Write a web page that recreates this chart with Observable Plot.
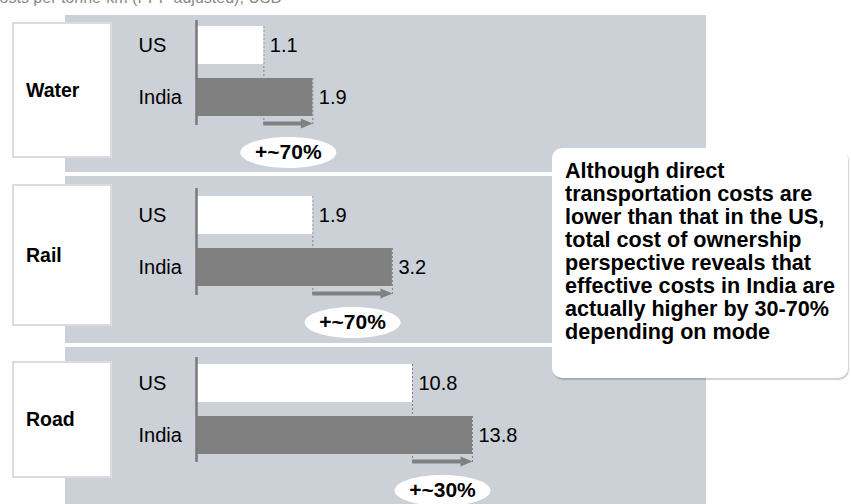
<!DOCTYPE html>
<html>
<head>
<meta charset="utf-8">
<script src="https://cdn.jsdelivr.net/npm/d3@7"></script>
<script src="https://cdn.jsdelivr.net/npm/@observablehq/plot@0.6"></script>
<style>
  body { margin: 0; background: #fff; }
  #root { position: relative; width: 851px; height: 504px; overflow: hidden; background: #fff;
          font-family: "Liberation Sans", Arial, Helvetica, sans-serif; }
  .abs { position: absolute; }
  #bg { left: 65px; top: 15px; width: 641px; height: 489px; background: #ccd0d7; }
  .sep { left: 65px; width: 641px; height: 4px; background: #fff; }
  .modebox { left: 12px; width: 100px; background: #fff; border: 2px solid #dadcdf;
             display: flex; align-items: center; padding-left: 12px; box-sizing: border-box;
             font-weight: bold; font-size: 19.5px; color: #000; }
  #caption { left: -12px; top: -10.5px; font-size: 16px; line-height: 16px; color: #8a8a8a; white-space: nowrap; }
  #callout { left: 552px; top: 148px; width: 296px; height: 230px; background: #fff; border-radius: 10px;
             box-shadow: 1px 2px 1px rgba(0,0,0,0.18); box-sizing: border-box; padding: 11px 0 0 13px;
             font-weight: bold; font-size: 21.6px; line-height: 23px; color: #000; white-space: nowrap; }
  svg.panel { position: absolute; left: 0; top: 0; }
</style>
</head>
<body>
<div id="root"></div>
<script>
// ---- data ----
const modes = ["Water", "Rail", "Road"];
const countries = ["US", "India"];
const usValues = [1.1, 1.9, 10.8];
const indiaValues = [1.9, 3.2, 13.8];
const increaseLabels = ["+~70%", "+~70%", "+~30%"];
const xDomainMax = [9.8, 9.8, 30];
const captionText = "Costs per tonne-km (PPP adjusted), USD";
const calloutLines = [
  "Although direct",
  "transportation costs are",
  "lower than that in the US,",
  "total cost of ownership",
  "perspective reveals that",
  "effective costs in India are",
  "actually higher by 30-70%",
  "depending on mode"
];

// ---- layout (page pixels) ----
const bandTop = [26, 196, 364];
const axisSpan = [[20, 125], [188, 295], [357, 462]];
const modeBoxes = [[22, 136], [184, 142], [361, 117]];
const separators = [172, 343];

const root = document.getElementById("root");
function addDiv(id, cls, style, html) {
  const d = document.createElement("div");
  d.className = "abs " + (cls || "");
  if (id) d.id = id;
  Object.assign(d.style, style || {});
  if (html != null) d.innerHTML = html;
  root.appendChild(d);
  return d;
}
addDiv("bg");
separators.forEach(y => addDiv(null, "sep", {top: y + "px"}));
addDiv("caption", "", {}, captionText);
modes.forEach((m, i) => addDiv(null, "modebox", {top: modeBoxes[i][0] + "px", height: modeBoxes[i][1] + "px"}, m));

const arrowGray = "#808080";
const ellipseSymbol = {
  draw(ctx) {
    const rx = 48, ry = 15.5, k = 0.5523;
    ctx.moveTo(rx, 0);
    ctx.bezierCurveTo(rx, ry * k, rx * k, ry, 0, ry);
    ctx.bezierCurveTo(-rx * k, ry, -rx, ry * k, -rx, 0);
    ctx.bezierCurveTo(-rx, -ry * k, -rx * k, -ry, 0, -ry);
    ctx.bezierCurveTo(rx * k, -ry, rx, -ry * k, rx, 0);
    ctx.closePath();
  }
};
const headSymbol = {
  draw(ctx) {
    ctx.moveTo(0, 0);
    ctx.lineTo(-12, -5);
    ctx.lineTo(-12, 5);
    ctx.closePath();
  }
};

modes.forEach((m, i) => {
  const rows = countries.map((c, j) => ({country: c, value: j === 0 ? usValues[i] : indiaValues[i]}));
  const diff = [{us: usValues[i], india: indiaValues[i], label: increaseLabels[i]}];
  const mid = d => (d.us + d.india) / 2;
  const india = () => "India";
  const us = () => "US";
  const plot = Plot.plot({
    width: 851,
    height: 504,
    marginLeft: 138,
    marginRight: 0,
    marginTop: axisSpan[i][0],
    marginBottom: 504 - axisSpan[i][1],
    style: {background: "transparent", fontFamily: "'Liberation Sans', Arial, sans-serif", overflow: "visible"},
    x: {domain: [0, xDomainMax[i]], range: [196, 796], axis: null},
    y: {type: "band", domain: countries, range: [bandTop[i], bandTop[i] + 90], paddingInner: 0.27, paddingOuter: 0, axis: null},
    color: {domain: countries, range: ["#ffffff", "#808080"]},
    marks: [
      Plot.ruleX(diff, {x: "us", y1: us, y2: india, insetBottom: -9, stroke: arrowGray, strokeWidth: 1, strokeDasharray: "2,2"}),
      Plot.ruleX(diff, {x: "india", y1: india, y2: india, insetBottom: -9, stroke: arrowGray, strokeWidth: 1, strokeDasharray: "2,2"}),
      Plot.barX(rows, {x: "value", y: "country", fill: "country"}),
      Plot.ruleX([0], {stroke: "#7a7a7a", strokeWidth: 2.5}),
      Plot.ruleY(diff, {x1: "us", x2: "india", y: india, dy: 26, insetRight: 10, stroke: arrowGray, strokeWidth: 4}),
      Plot.dot(diff, {x: "india", y: india, dy: 26, symbol: headSymbol, fill: arrowGray, stroke: "none"}),
      Plot.text(rows, {y: "country", text: "country", frameAnchor: "left", textAnchor: "start", fontSize: 20, fill: "#000"}),
      Plot.text(rows, {x: "value", y: "country", text: d => d.value.toFixed(1), dx: 6, textAnchor: "start", fontSize: 20, fill: "#000"}),
      Plot.dot(diff, {x: mid, y: india, dy: 55, symbol: ellipseSymbol, fill: "#fff", stroke: "none"}),
      Plot.text(diff, {x: mid, y: india, dy: 55, text: "label", fontSize: 21, fontWeight: "bold", fill: "#000"})
    ]
  });
  plot.classList.add("panel");
  root.appendChild(plot);
});

addDiv("callout", "", {}, calloutLines.join("<br>"));
</script>
</body>
</html>
